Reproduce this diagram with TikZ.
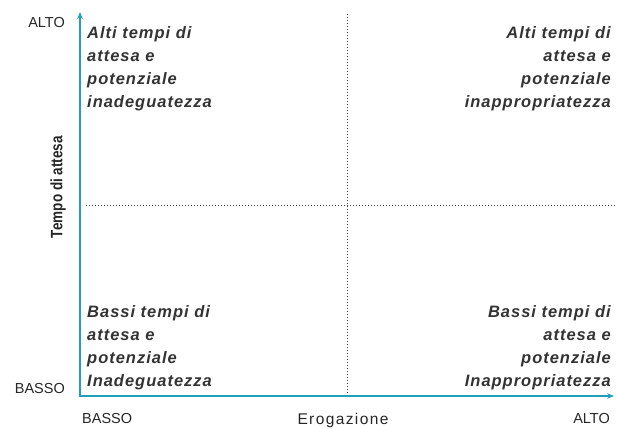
\documentclass[tikz,border=0pt]{standalone}
\usepackage{fontspec}
\setmainfont{Liberation Sans}
\newfontfamily\spaziato{Liberation Sans}[LetterSpace=9]
\newfontfamily\quadfont{Liberation Sans}[LetterSpace=6]
\newfontfamily\stretto{Liberation Sans}[FakeStretch=0.82]
\usepackage{xcolor}
\usepackage{tikz}
\usetikzlibrary{arrows.meta, positioning}
\definecolor{tealasse}{RGB}{32,160,186}

\begin{document}
\begin{tikzpicture}[
		% Stile della figura
		x=1pt, y=-1pt,
		>={Stealth[length=7pt, width=5.5pt]},
		asse/.style={<->, line width=1.6pt, draw=tealasse},
		soglia/.style={draw=black!75, line width=1pt, dash pattern=on 1pt off 2pt},
		etichetta/.style={inner sep=0pt, font=\fontsize{14.5}{16}\selectfont, text=black!85},
		titolo/.style={inner sep=0pt, font=\stretto\bfseries\fontsize{16.5}{18}\selectfont, text=black!85},
		quadrante/.style={inner sep=0pt, font=\quadfont\bfseries\itshape\fontsize{16.5}{23}\selectfont, text=black!80}
	]
	\useasboundingbox (0,0) rectangle (617,428);
	% Punti degli assi
	\coordinate (cima) at (80,12);
	\coordinate (origine) at (80,396);
	\coordinate (fine_x) at (614,396);
	\coordinate (soglia_alto) at (347,14);
	\coordinate (soglia_basso) at (347,396);
	\coordinate (soglia_sx) at (86,205);
	\coordinate (soglia_dx) at (616,205);
	% Linee di soglia
	\draw[soglia] (soglia_alto) -- (soglia_basso);
	\draw[soglia] (soglia_sx) -- (soglia_dx);
	% Assi
	\draw[asse] (cima) -- (origine) -- (fine_x);
	% Quadranti
	\node[quadrante, anchor=north west, align=left] (alto_sx) at (87,26) {Alti tempi di\\attesa e\\potenziale\\inadeguatezza};
	\node[quadrante, anchor=north east, align=right] (alto_dx) at (611,26) {Alti tempi di\\attesa e\\potenziale\\inappropriatezza};
	\node[quadrante, anchor=north west, align=left] (basso_sx) at (87,305) {Bassi tempi di\\attesa e\\potenziale\\Inadeguatezza};
	\node[quadrante, anchor=north east, align=right] (basso_dx) at (611,305) {Bassi tempi di\\attesa e\\potenziale\\Inappropriatezza};
	% Etichette degli assi
	\node[etichetta, anchor=base east] (alto_y) at (65,28) {ALTO};
	\node[etichetta, anchor=base east] (basso_y) at (65,393) {BASSO};
	\node[etichetta, anchor=base west] (basso_x) at (82,423) {BASSO};
	\node[etichetta, anchor=base east] (alto_x) at (610,423) {ALTO};
	\node[etichetta, font=\spaziato\fontsize{15.5}{17}\selectfont, anchor=base] (erogazione) at (343,424) {Erogazione};
	\node[titolo, rotate=90] (tempo) at (58,187) {Tempo di attesa};
\end{tikzpicture}
\end{document}
